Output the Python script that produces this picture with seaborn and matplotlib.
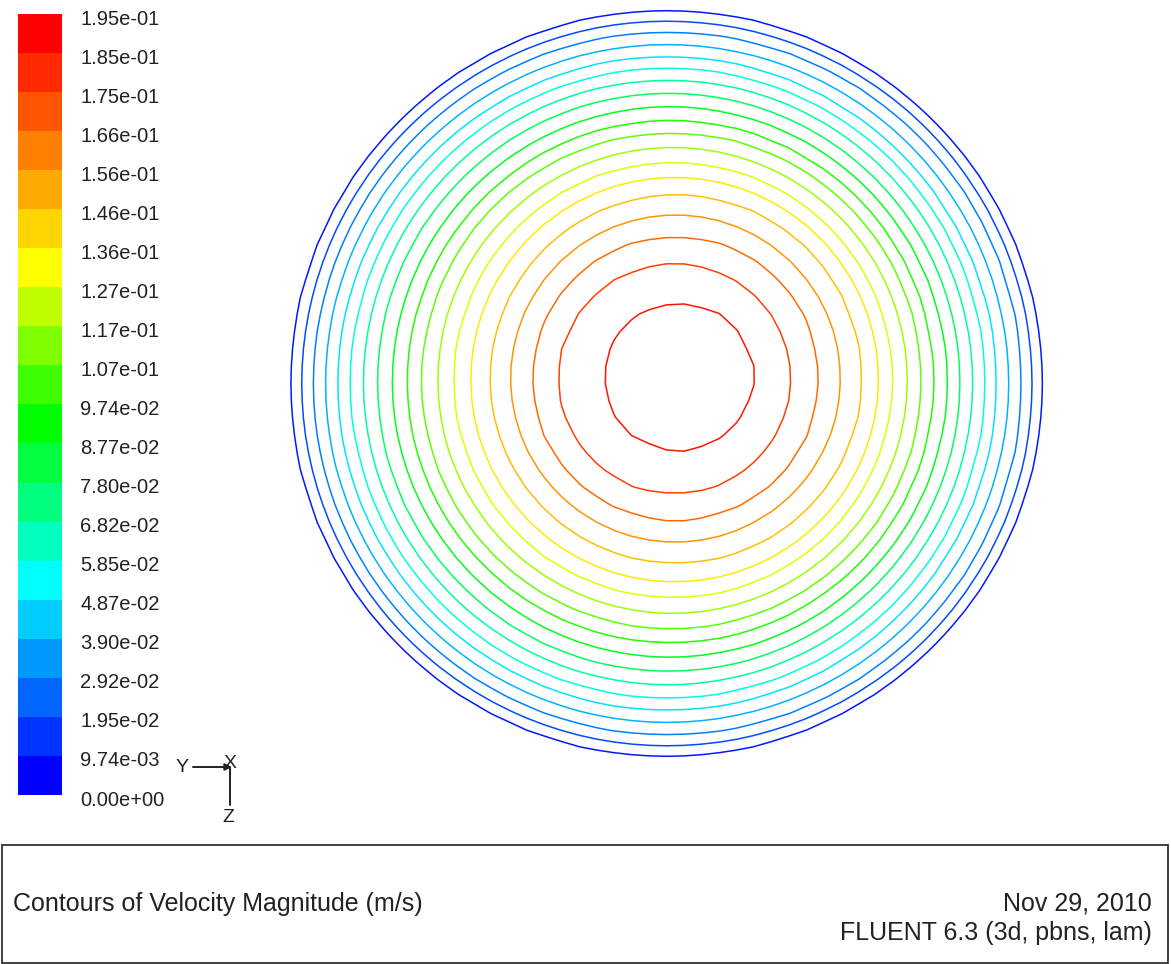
import numpy as np
import matplotlib
matplotlib.use("Agg")
import matplotlib.pyplot as plt
from matplotlib.colors import ListedColormap, hsv_to_rgb
from matplotlib.patches import Rectangle
import seaborn as sns

sns.set_style("white")
plt.rcParams['font.family'] = ['Liberation Sans', 'DejaVu Sans']

# ---------------- data ----------------
tick_labels = ["0.00e+00", "9.74e-03", "1.95e-02", "2.92e-02", "3.90e-02",
               "4.87e-02", "5.85e-02", "6.82e-02", "7.80e-02", "8.77e-02",
               "9.74e-02", "1.07e-01", "1.17e-01", "1.27e-01", "1.36e-01",
               "1.46e-01", "1.56e-01", "1.66e-01", "1.75e-01", "1.85e-01",
               "1.95e-01"]
level_values = [0.0, 9.74e-3, 1.95e-2, 2.92e-2, 3.90e-2, 4.87e-2, 5.85e-2,
                6.82e-2, 7.80e-2, 8.77e-2, 9.74e-2, 1.07e-1, 1.17e-1, 1.27e-1,
                1.36e-1, 1.46e-1, 1.56e-1, 1.66e-1, 1.75e-1, 1.85e-1, 1.95e-1]
# radius of each drawn contour ring (levels 1..19), as fraction of pipe radius
ring_radius = [0.975, 0.946, 0.918, 0.885, 0.852, 0.823, 0.789, 0.755, 0.719,
               0.681, 0.648, 0.608, 0.569, 0.528, 0.482, 0.427, 0.373, 0.302,
               0.197]
# centre shift of each ring (fraction of pipe radius)
ring_dx = [0.000, 0.001, 0.003, 0.001, 0.001, 0.003, 0.004, 0.005, 0.009,
           0.010, 0.013, 0.016, 0.017, 0.021, 0.025, 0.023, 0.024, 0.020,
           0.032]
ring_dy = [0.000, 0.000, 0.000, 0.000, 0.000, 0.001, 0.003, 0.003, 0.004,
           0.005, 0.007, 0.008, 0.009, 0.010, 0.012, 0.013, 0.013, 0.012,
           0.018]
# hue (degrees) of the 20 colour-bar bands, bottom to top
band_hues = [240, 228, 216, 204, 192, 180, 165, 150, 135, 120,
             105, 90, 75, 60, 50, 40, 30, 20, 10, 0]

title_left = "Contours of Velocity Magnitude (m/s)"
title_right1 = "Nov 29, 2010"
title_right2 = "FLUENT 6.3 (3d, pbns, lam)"

# ---------------- derived ----------------
levels = np.array(level_values)
band_colors = [hsv_to_rgb((h / 360.0, 1.0, 1.0)) for h in band_hues]
line_colors = [hsv_to_rgb((((band_hues[k - 1] + band_hues[k]) / 2) / 360.0, 1.0, 1.0))
               for k in range(1, 20)]
drawn_levels = levels[1:20]

# radial profile; beyond the wall the profile is continued linearly
r_in = np.array(ring_radius)[::-1]
v_in = drawn_levels[::-1]
slope = (v_in[-1] - 0.0) / (1.0 - r_in[-1])
xp = np.concatenate([[0.0], r_in, [1.0, 1.6]])
fp = np.concatenate([[levels[-1]], v_in, [0.0, -slope * 0.6]])
vv = np.concatenate([[-1.0], drawn_levels, [levels[-1]]])
cxs = np.concatenate([[0.0], ring_dx, [ring_dx[-1]]])
cys = np.concatenate([[0.0], ring_dy, [ring_dy[-1]]])

g = np.linspace(-1.04, 1.04, 47)
X, Y = np.meshgrid(g, g)
V = np.interp(np.hypot(X, Y), xp, fp)
for _ in range(5):
    cx = np.interp(V, vv, cxs)
    cy = np.interp(V, vv, cys)
    V = np.interp(np.hypot(X - cx, Y - cy), xp, fp)

# ---------------- figure ----------------
W, H = 1171, 964
fig = plt.figure(figsize=(W / 100, H / 100), dpi=100)
fig.patch.set_facecolor("white")

# main contour axes (pixel mapping: 386 px/unit horizontally, 383 px/unit vertically)
cx_px, cy_px = 666.5, 383.5
sx, sy = 386.0, 383.0
xl, yl = 1.05, 1.0
ax = fig.add_axes([(cx_px - xl * sx) / W, (H - cy_px - yl * sy) / H,
                   2 * xl * sx / W, 2 * yl * sy / H])
ax.contour(X, Y, V, levels=drawn_levels, colors=line_colors, linewidths=1.1)
ax.set_xlim(-xl, xl)
ax.set_ylim(-yl, yl)
ax.axis("off")

# colour bar via seaborn heatmap
cax = fig.add_axes([18 / W, (H - 798) / H, 44 / W, 784 / H])
mids = (levels[:-1] + levels[1:]) / 2
sns.heatmap(mids[::-1].reshape(-1, 1), cmap=ListedColormap(band_colors),
            vmin=levels[0], vmax=levels[-1], cbar=False, ax=cax,
            xticklabels=False)
cax.yaxis.tick_right()
cax.set_yticks(np.arange(21) + 0.08)
cax.set_yticklabels(tick_labels[::-1], rotation=0, fontsize=14.5,
                    color="#222222")
cax.tick_params(axis="y", length=0, pad=13)
cax.tick_params(axis="x", length=0)
for s in cax.spines.values():
    s.set_visible(False)

# overlay for annotations (pixel coordinates)
ov = fig.add_axes([0, 0, 1, 1], facecolor="none")
ov.set_xlim(0, W)
ov.set_ylim(H, 0)
ov.axis("off")

ov.add_patch(Rectangle((1.5, 845), 1166, 117.5, fill=False,
                       edgecolor="#333333", linewidth=1.3))
ov.text(13, 911, title_left, fontsize=18, color="#222222",
        ha="left", va="baseline")
ov.text(1152, 910, title_right1, fontsize=18, color="#222222",
        ha="right", va="baseline")
ov.text(1152, 940, title_right2, fontsize=18, color="#222222",
        ha="right", va="baseline")

# axis triad
ov.annotate("", xy=(232, 767), xytext=(193, 767),
            arrowprops=dict(arrowstyle="-|>", color="#222222", lw=1.4,
                            mutation_scale=10, shrinkA=0, shrinkB=0))
ov.plot([230, 230], [768, 805], color="#222222", lw=1.4)
ov.text(182, 768, "Y", fontsize=14, color="#222222", ha="center", va="center")
ov.text(230, 764, "X", fontsize=14, color="#222222", ha="center", va="center")
ov.text(228, 818, "Z", fontsize=14, color="#222222", ha="center", va="center")

fig.savefig("out.png", dpi=100, facecolor="white")
